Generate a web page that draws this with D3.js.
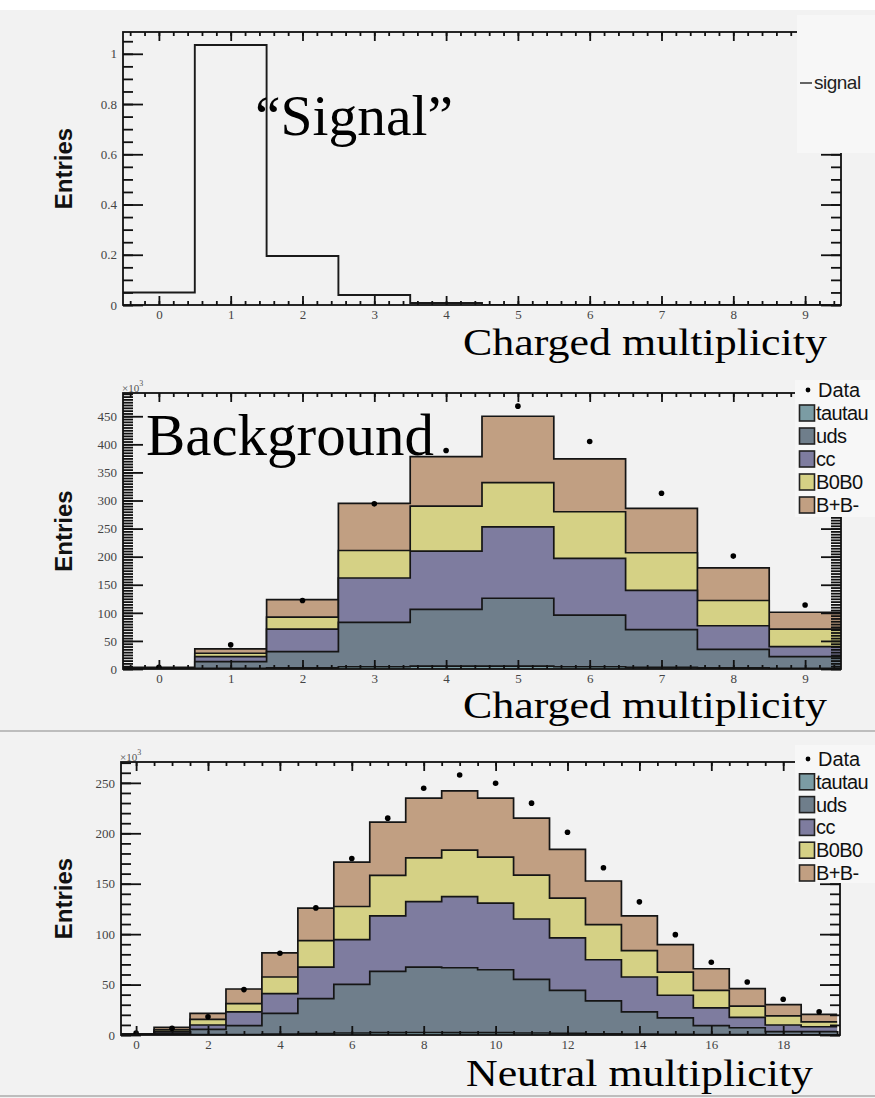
<!DOCTYPE html>
<html><head><meta charset="utf-8">
<script src="https://cdn.jsdelivr.net/npm/d3@7"></script>
<style>body{margin:0;background:#f2f2f2;} svg{display:block}</style>
</head><body><svg id="c" width="875" height="1098"></svg>
<script>
// ---------- data ----------
const signalBins   = [0,1,2,3,4,5,6,7,8,9];
const signalValues = [0.05,1.035,0.195,0.04,0.008,0,0,0,0,0];

const chargedBins   = [0,1,2,3,4,5,6,7,8,9];
const chargedTautau = [0.2,1,2,4,5,5,4,3,2,1];
const chargedUds    = [0.8,12,29,79,101,121,92,67,33,21];
const chargedCc     = [0.6,9,40,79,104,127,101,70,42,18];
const chargedB0B0   = [0.6,6,21.5,49,80,79,83,67,45,31];
const chargedBpBm   = [0.8,8,31,84,88,118,94,79,58,30];
const chargedData   = [3,43,122,294,389,468,405,313,201,114];

const neutralBins   = [0,1,2,3,4,5,6,7,8,9,10,11,12,13,14,15,16,17,18,19];
const neutralTautau = [0.05,0.1,0.3,0.5,1,1.5,2,2.3,2.5,2.4,2.3,2,1.6,1.2,0.9,0.6,0.4,0.3,0.2,0.2];
const neutralUds    = [0.25,1.4,5.3,8.7,20.4,34.6,48.2,60.7,64.8,64.3,62.4,53.2,42.7,32.6,22.1,16.4,8.8,6.9,3.1,3.1];
const neutralCc     = [0.3,1.5,4.3,13.8,19.6,31.2,44.4,55.2,65,70.5,66,59.8,52,40.8,34.5,22.4,17.7,10.2,6.6,4.9];
const neutralB0B0   = [0.3,2,5.5,8.2,16.5,26.3,32.8,40.1,43.4,46.1,45.7,43.6,39.4,34.8,26.2,23,17.4,11.2,9.1,4.9];
const neutralBpBm   = [0.3,2.5,6,14.4,24,32.2,44,52.7,59.1,58.7,58.4,56.4,48.3,43.3,34.5,27.3,21.4,17.4,11.2,7.3];
const neutralData   = [2,6.6,18,45,81,126,175,215,244.6,257.8,249.6,229.9,201,165.8,132,99.5,72.2,52.5,35.5,23];

const layerNames  = ["tautau","uds","cc","B0B0","B+B-"];
const layerColors = ["#7b9ca4","#6f7e8b","#7e7c9f","#d5d185","#c19f82"];

const chargedTicksX = [0,1,2,3,4,5,6,7,8,9];
const neutralTicksX = [0,2,4,6,8,10,12,14,16,18];
const signalTicksY  = [0,0.2,0.4,0.6,0.8,1];
const chargedTicksY = [0,50,100,150,200,250,300,350,400,450];
const neutralTicksY = [0,50,100,150,200,250];

// ---------- drawing ----------
const svg = d3.select("#c");
svg.append("rect").attr("width",875).attr("height",1098).attr("fill","#f2f2f2");
svg.append("rect").attr("width",875).attr("height",10).attr("fill","#ffffff");
svg.append("line").attr("x1",0).attr("x2",875).attr("y1",731).attr("y2",731).attr("stroke","#bdbdbd").attr("stroke-width",2);
svg.append("line").attr("x1",0).attr("x2",875).attr("y1",1096).attr("y2",1096).attr("stroke","#bdbdbd").attr("stroke-width",2);

const SERIF = "'Liberation Serif','Times New Roman',serif";
const SANS  = "'Liberation Sans',Arial,sans-serif";

function panel(cfg, idx){
  const g = svg.append("g");
  const x = d3.scaleLinear().domain(cfg.xDomain).range([cfg.left,cfg.right]);
  const y = d3.scaleLinear().domain([0,cfg.yMax]).range([cfg.bottom,cfg.top]);
  const clipId = "clip"+idx;
  svg.append("clipPath").attr("id",clipId).append("rect")
     .attr("x",cfg.left).attr("y",cfg.top).attr("width",cfg.right-cfg.left).attr("height",cfg.bottom-cfg.top);
  const plot = g.append("g").attr("clip-path",`url(#${clipId})`);

  const stepPts = (bins, vals) => {
    const p = bins.map((b,i)=>[b-0.5, vals[i]]);
    p.push([bins[bins.length-1]+0.5, vals[vals.length-1]]);
    return p;
  };
  const line = d3.line().curve(d3.curveStepAfter).x(d=>x(d[0])).y(d=>y(d[1]));
  const area = d3.area().curve(d3.curveStepAfter).x(d=>x(d[0])).y0(y(0)).y1(d=>y(d[1]));

  if (cfg.layers){
    const stack = d3.stack().keys(d3.range(cfg.layers.length))
      .value((d,k)=>cfg.layers[k][d])(d3.range(cfg.bins.length));
    for (let k = stack.length-1; k>=0; k--){
      const tops = stack[k].map(d=>d[1]);
      const pts = stepPts(cfg.bins, tops);
      plot.append("path").attr("d",area(pts)).attr("fill",layerColors[k]);
      plot.append("path").attr("d",line(pts)).attr("fill","none").attr("stroke","#151515").attr("stroke-width",1.7);
    }
  }
  if (cfg.signal){
    plot.append("path").attr("d",line(stepPts(cfg.bins,cfg.signal))).attr("fill","none")
      .attr("stroke","#1a1a1a").attr("stroke-width",1.9);
  }
  if (cfg.data){
    plot.selectAll("circle.d").data(cfg.data).join("circle")
      .attr("cx",(d,i)=>x(cfg.bins[i])).attr("cy",d=>y(d)).attr("r",2.8).attr("fill","#000");
  }

  // axes
  const styleAxis = sel => {
    sel.select(".domain").remove();
    sel.selectAll(".tick line").attr("stroke","#111").attr("stroke-width",1.8);
    sel.selectAll(".tick text").attr("font-family",SERIF).attr("font-size",13).attr("fill","#444");
  };
  const xMinor = d3.range(Math.ceil(cfg.xDomain[0]/cfg.xMinorStep)*cfg.xMinorStep, cfg.xDomain[1], cfg.xMinorStep)
    .filter(v=>v>=cfg.xDomain[0]);
  const yMinor = d3.range(0, cfg.yMax, cfg.yMinorStep);

  g.append("g").attr("transform",`translate(0,${cfg.bottom})`)
    .call(d3.axisBottom(x).tickValues(xMinor).tickSize(-4).tickFormat("")).call(styleAxis);
  g.append("g").attr("transform",`translate(0,${cfg.bottom})`)
    .call(d3.axisBottom(x).tickValues(cfg.xTicks).tickSize(-9).tickPadding(5).tickFormat(d3.format("d"))).call(styleAxis);
  g.append("g").attr("transform",`translate(0,${cfg.top})`)
    .call(d3.axisTop(x).tickValues(xMinor).tickSize(-4).tickFormat("")).call(styleAxis);
  g.append("g").attr("transform",`translate(0,${cfg.top})`)
    .call(d3.axisTop(x).tickValues(cfg.xTicks).tickSize(-9).tickFormat("")).call(styleAxis);

  g.append("g").attr("transform",`translate(${cfg.left},0)`)
    .call(d3.axisLeft(y).tickValues(yMinor).tickSize(-10).tickFormat("")).call(styleAxis);
  g.append("g").attr("transform",`translate(${cfg.left},0)`)
    .call(d3.axisLeft(y).tickValues(cfg.yTicks).tickSize(-20).tickPadding(6).tickFormat(cfg.yFormat)).call(styleAxis);
  g.append("g").attr("transform",`translate(${cfg.right},0)`)
    .call(d3.axisRight(y).tickValues(yMinor).tickSize(-10).tickFormat("")).call(styleAxis);
  g.append("g").attr("transform",`translate(${cfg.right},0)`)
    .call(d3.axisRight(y).tickValues(cfg.yTicks).tickSize(-20).tickFormat("")).call(styleAxis);

  g.append("rect").attr("x",cfg.left).attr("y",cfg.top).attr("width",cfg.right-cfg.left)
    .attr("height",cfg.bottom-cfg.top).attr("fill","none").attr("stroke","#111").attr("stroke-width",1.8);

  if (cfg.exp){
    const t = g.append("text").attr("x",cfg.left-1).attr("y",cfg.top-1)
      .attr("font-family",SERIF).attr("font-size",11).attr("fill","#555");
    t.append("tspan").text("×10");
    t.append("tspan").attr("dy",-6).attr("font-size",8).text("3");
  }

  // y title
  g.append("text").attr("transform",`translate(72,${(cfg.top+cfg.bottom)/2}) rotate(-90)`)
    .attr("text-anchor","middle").attr("font-family",SANS).attr("font-weight","bold")
    .attr("font-size",24).attr("fill","#111").text("Entries");

  // x title
  g.append("text").attr("x",cfg.titleX).attr("y",cfg.bottom+cfg.titleDy)
    .attr("font-family",SERIF).attr("font-size",37).attr("fill","#000")
    .attr("textLength",cfg.titleW).attr("lengthAdjust","spacingAndGlyphs").text(cfg.title);
  return {x,y,g};
}

function stackLegend(top, bottom, cy0, step){
  svg.append("rect").attr("x",795).attr("y",top).attr("width",80).attr("height",bottom-top).attr("fill","#f7f7f7");
  const lg = svg.append("g");
  lg.append("circle").attr("cx",808).attr("cy",cy0).attr("r",2.4).attr("fill","#000");
  lg.append("text").attr("x",818).attr("y",cy0+7).attr("font-family",SANS).attr("font-size",20)
    .attr("fill","#111").text("Data");
  layerNames.forEach((n,i)=>{
    const cy = cy0+step*(i+1);
    lg.append("rect").attr("x",799.5).attr("y",cy-8).attr("width",15).attr("height",16)
      .attr("fill",layerColors[i]).attr("stroke","#222").attr("stroke-width",1.6);
    lg.append("text").attr("x",816).attr("y",cy+7).attr("font-family",SANS).attr("font-size",20)
      .attr("letter-spacing",-0.6).attr("fill","#111").text(n);
  });
}

// panel 1: signal
panel({left:123,right:841,top:32,bottom:305,xDomain:[-0.5,9.5],
  yMax:d3.max(signalValues)*1.05, bins:signalBins, signal:signalValues,
  xTicks:chargedTicksX, xMinorStep:0.2, yTicks:signalTicksY, yMinorStep:0.05,
  yFormat:d=>d3.format("~g")(d), title:"Charged multiplicity", titleX:463, titleDy:50, titleW:364},1);

// panel 2: charged
panel({left:123,right:841,top:393,bottom:669,xDomain:[-0.5,9.5],
  yMax:d3.max(chargedData)*1.05, bins:chargedBins,
  layers:[chargedTautau,chargedUds,chargedCc,chargedB0B0,chargedBpBm], data:chargedData,
  xTicks:chargedTicksX, xMinorStep:0.2, yTicks:chargedTicksY, yMinorStep:5, exp:true,
  yFormat:d3.format("d"), title:"Charged multiplicity", titleX:463, titleDy:49, titleW:364},2);

// panel 3: neutral
panel({left:121,right:840,top:762,bottom:1035,xDomain:[-0.42,19.58],
  yMax:d3.max(neutralData)*1.05, bins:neutralBins,
  layers:[neutralTautau,neutralUds,neutralCc,neutralB0B0,neutralBpBm], data:neutralData,
  xTicks:neutralTicksX, xMinorStep:0.5, yTicks:neutralTicksY, yMinorStep:10, exp:true,
  yFormat:d3.format("d"), title:"Neutral multiplicity", titleX:466, titleDy:51, titleW:347},3);

// signal legend
svg.append("rect").attr("x",797).attr("y",15).attr("width",78).attr("height",138).attr("fill","#f7f7f7");
svg.append("line").attr("x1",800).attr("x2",812).attr("y1",83).attr("y2",83).attr("stroke","#333").attr("stroke-width",1.5);
svg.append("text").attr("x",814).attr("y",89).attr("font-family",SANS).attr("font-size",19)
  .attr("letter-spacing",-0.5).attr("fill","#222").text("signal");

stackLegend(380, 517, 390, 23);
stackLegend(745, 883, 759, 22.8);

// annotations
svg.append("text").attr("x",255).attr("y",135).attr("font-family",SERIF).attr("font-size",58)
  .attr("textLength",198).attr("lengthAdjust","spacingAndGlyphs").attr("fill","#000").text("“Signal”");
svg.append("text").attr("x",146).attr("y",455).attr("font-family",SERIF).attr("font-size",59)
  .attr("textLength",288).attr("lengthAdjust","spacingAndGlyphs").attr("fill","#000").text("Background");
</script></body></html>
